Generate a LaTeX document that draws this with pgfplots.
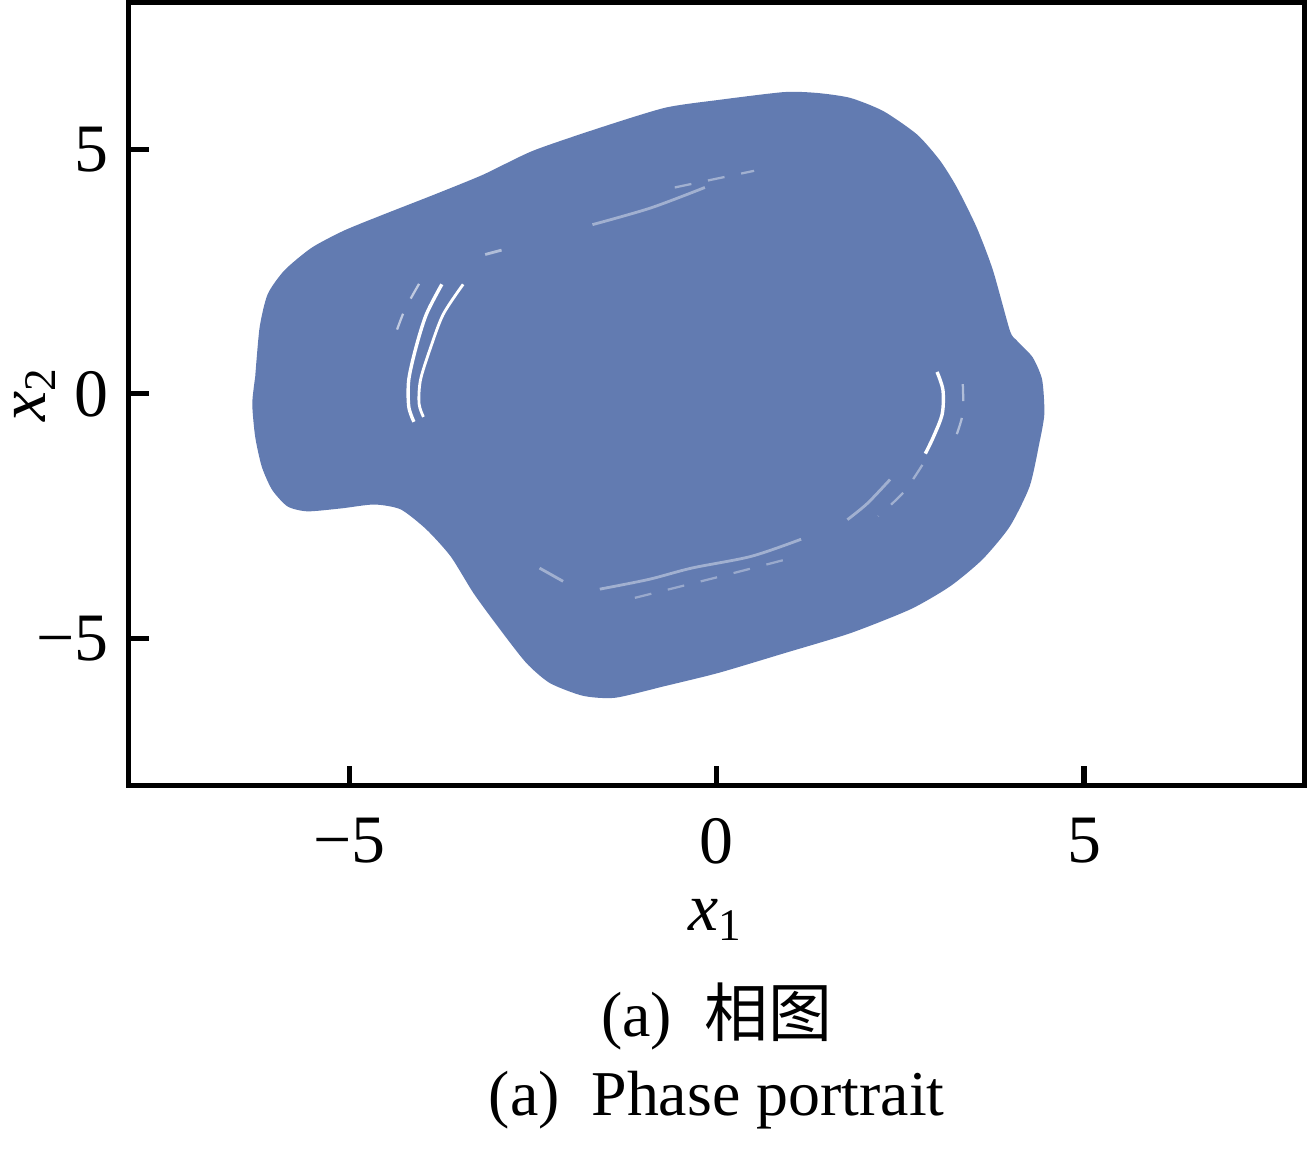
\documentclass[border=0pt]{standalone}
\usepackage{pgfplots}
\pgfplotsset{compat=1.18}
\usepackage{fontspec}
\setmainfont{Liberation Serif}
\newfontfamily\cjk{Noto Sans CJK SC}
\definecolor{attcol}{RGB}{98,123,177}
\begin{document}
\begin{tikzpicture}
\begin{axis}[
    name=ax,
    scale only axis,
    width=208pt, height=138.5pt,
    xmin=-8, xmax=8, ymin=-8, ymax=8,
    xtick={-5,0,5}, ytick={-5,0,5},
    xticklabels={−5,0,5}, yticklabels={−5,0,5},
    tick pos=left,
    tick align=inside,
    major tick length=3.5pt,
    axis line style={line width=0.9pt},
    every tick/.style={black, line width=0.9pt},
    tick label style={font=\fontsize{12}{14}\selectfont},
    xticklabel style={yshift=-2.3pt},
    xlabel={\textit{x}\textsubscript{1}},
    ylabel={\textit{x}\textsubscript{2}},
    label style={font=\fontsize{12}{14}\selectfont},
    xlabel style={at={(rel axis cs:0.5,-0.1856)}, anchor=base},
    ylabel style={at={(rel axis cs:-0.08,0.5)}, anchor=center, inner sep=2.5pt},
]
% outline of the attractor
\addplot[draw=none, fill=attcol, smooth, tension=0.4] coordinates {
    (-6.28,0.35) (-6.22,1.36) (-6.11,2.04) (-5.88,2.53) (-5.51,2.99)
    (-5.07,3.34) (-4.53,3.67) (-3.85,4.07) (-3.18,4.48) (-2.50,4.97)
    (-1.59,5.44) (-0.70,5.85) (0.03,6.01) (0.92,6.17) (1.38,6.15)
    (1.82,6.05) (2.27,5.78) (2.73,5.30) (3.04,4.77) (3.27,4.22)
    (3.54,3.40) (3.76,2.53) (3.99,1.30) (4.08,1.10) (4.30,0.75)
    (4.43,0.29) (4.46,-0.41) (4.39,-1.02) (4.26,-1.89) (3.99,-2.71)
    (3.62,-3.38) (3.18,-3.93) (2.64,-4.40) (1.82,-4.89) (0.92,-5.30)
    (0.03,-5.70) (-0.70,-5.97) (-1.38,-6.21) (-1.82,-6.17) (-2.27,-5.91)
    (-2.59,-5.50) (-2.95,-4.81) (-3.31,-4.07) (-3.62,-3.32) (-3.95,-2.77)
    (-4.30,-2.36) (-4.66,-2.26) (-5.11,-2.34) (-5.57,-2.40) (-5.84,-2.30)
    (-6.05,-1.96) (-6.19,-1.49) (-6.28,-0.88) (-6.32,-0.20) (-6.28,0.35)
} -- cycle;
% gaps in the attractor
\addplot[white, line width=0.6pt, smooth] coordinates {
    (-3.74,2.24) (-3.95,1.63) (-4.09,0.96) (-4.19,0.29) (-4.19,-0.26) (-4.12,-0.57)
};
\addplot[white, line width=0.5pt, smooth] coordinates {
    (-3.45,2.24) (-3.72,1.63) (-3.89,0.96) (-4.03,0.29) (-4.05,-0.20) (-3.99,-0.47)
};
\addplot[white!60!attcol, line width=0.4pt, dashed, smooth] coordinates {
    (-4.05,2.25) (-4.25,1.70) (-4.40,1.10)
};
\addplot[white!50!attcol, line width=0.5pt, dashed] coordinates {
    (-3.15,2.85) (-2.90,2.95)
};
\addplot[white!40!attcol, line width=0.5pt, smooth] coordinates {
    (-1.69,3.46) (-0.90,3.80) (-0.16,4.22)
};
\addplot[white!40!attcol, line width=0.4pt, dashed, smooth] coordinates {
    (-0.57,4.22) (0.0,4.40) (0.51,4.56)
};
\addplot[white, line width=0.6pt, smooth] coordinates {
    (3.00,0.45) (3.08,0.08) (3.07,-0.41) (2.95,-0.88) (2.84,-1.22)
};
\addplot[white!50!attcol, line width=0.4pt, dashed, smooth] coordinates {
    (3.35,0.20) (3.35,-0.40) (3.25,-0.90)
};
\addplot[white!40!attcol, line width=0.5pt, smooth] coordinates {
    (2.36,-1.75) (2.05,-2.24) (1.78,-2.57)
};
\addplot[white!40!attcol, line width=0.4pt, dashed, smooth] coordinates {
    (2.80,-1.45) (2.55,-2.00) (2.20,-2.50)
};
\addplot[white!40!attcol, line width=0.5pt, smooth] coordinates {
    (1.15,-2.97) (0.47,-3.32) (-0.34,-3.56) (-0.92,-3.79) (-1.59,-3.99)
};
\addplot[white!35!attcol, line width=0.4pt, dashed, smooth] coordinates {
    (0.90,-3.40) (0.0,-3.75) (-1.20,-4.20)
};
\addplot[white!40!attcol, line width=0.5pt] coordinates {
    (-2.09,-3.83) (-2.41,-3.56)
};
\end{axis}
\node[anchor=base, font=\fontsize{11.3}{13}\selectfont] at ([yshift=-44.5pt]ax.south) {(a)\enspace{\cjk 相图}};
\node[anchor=base, font=\fontsize{11.3}{13}\selectfont] at ([yshift=-58.5pt]ax.south) {(a)\enspace Phase portrait};
\end{tikzpicture}
\end{document}
